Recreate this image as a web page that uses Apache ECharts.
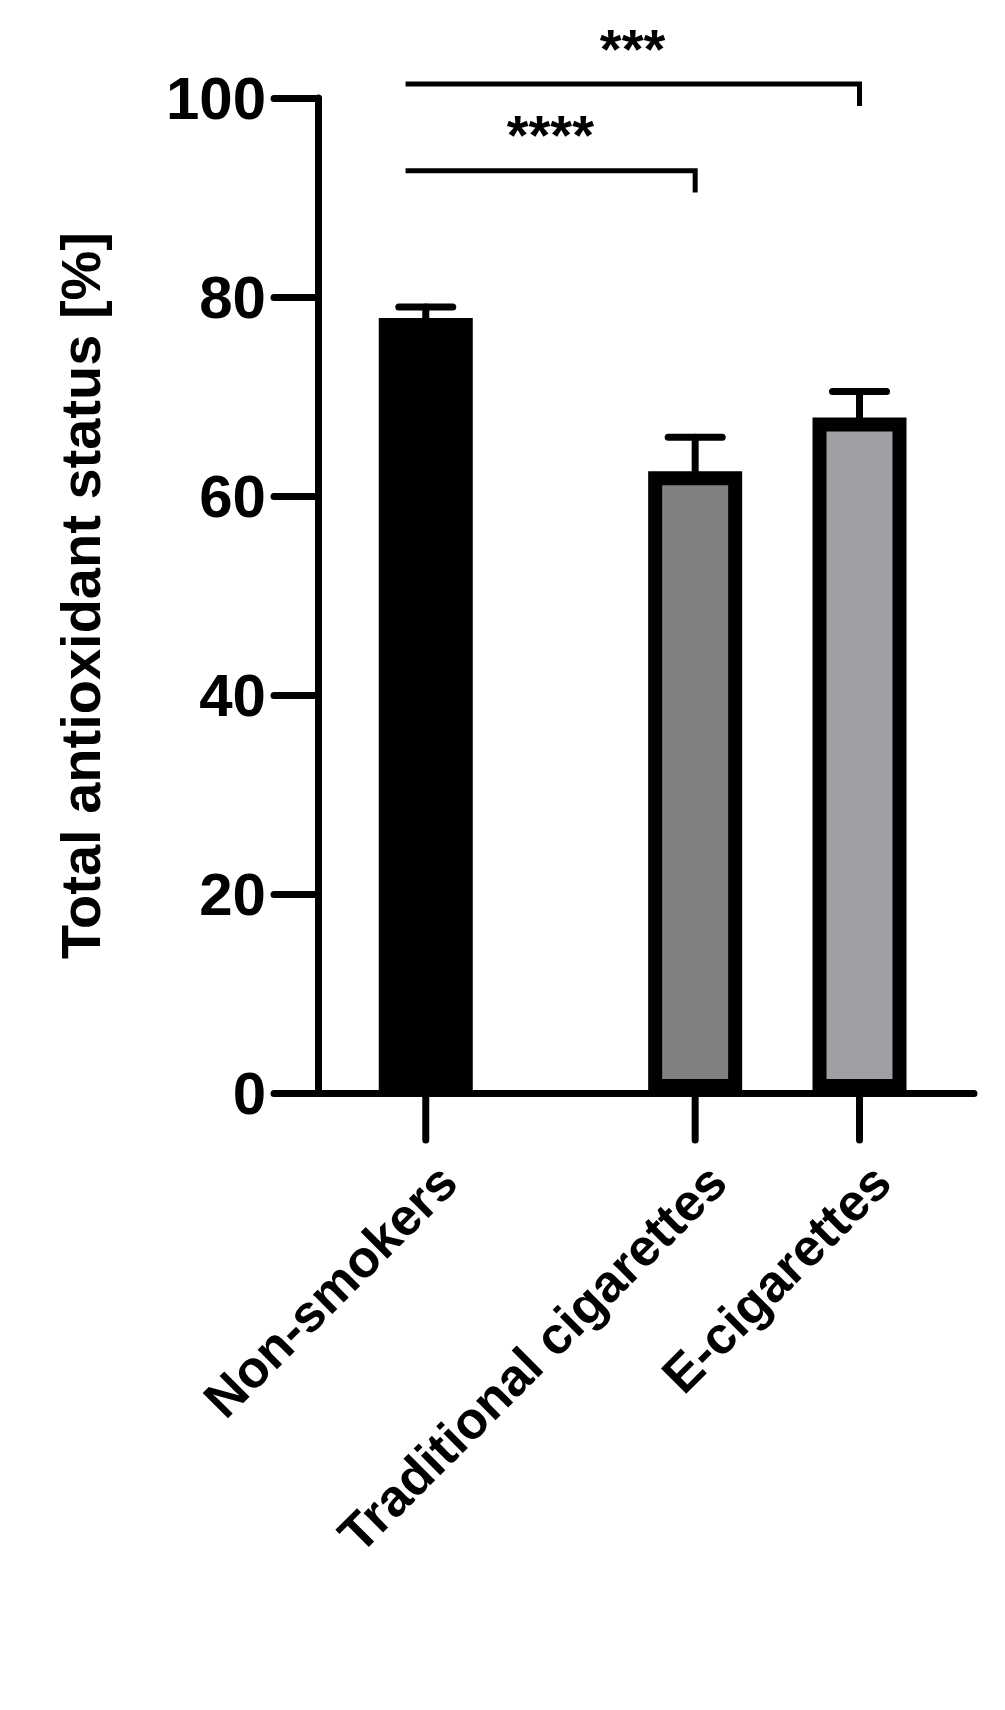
<!DOCTYPE html>
<html>
<head>
<meta charset="utf-8">
<script src="https://cdn.jsdelivr.net/npm/echarts@6/dist/echarts.min.js"></script>
<style>html,body{margin:0;background:#fff}#c{width:1005px;height:1710px}</style>
</head>
<body>
<div id="c"></div>
<script>
// group data
const categories = ['Non-smokers', 'Traditional cigarettes', 'E-cigarettes'];
const positions = [1, 3, 4.22];
const means = [77.9, 62.5, 67.9];
const errUpper = [79.0, 65.9, 70.5];
const fills = ['#000000', '#808080', '#a0a0a4'];

// significance brackets: [fromPos, toPos, lineY, dropY, label]
const brackets = [
    [0.85, 4.22, 101.4, 99.2, '***'],
    [0.85, 3, 92.7, 90.5, '****']
];

const font = 'Arial, "Liberation Sans", sans-serif';
const chart = echarts.init(document.getElementById('c'), null, { renderer: 'svg' });

chart.setOption({
    animation: false,
    grid: { left: 318, right: 31, top: 98, bottom: 617 },
    xAxis: {
        type: 'value', min: 0.2, max: 5.07,
        axisLine: { show: true, lineStyle: { color: '#000', width: 7, cap: 'round' } },
        axisTick: { show: false }, axisLabel: { show: false }, splitLine: { show: false }
    },
    yAxis: {
        type: 'value', min: 0, max: 100, interval: 20,
        name: 'Total antioxidant status [%]', nameLocation: 'middle', nameGap: 210,
        nameTextStyle: { fontFamily: font, fontWeight: 'bold', fontSize: 56, color: '#000' },
        axisLine: { show: true, lineStyle: { color: '#000', width: 7, cap: 'round' } },
        axisTick: { show: true, length: 44, lineStyle: { color: '#000', width: 7, cap: 'round' } },
        axisLabel: { fontFamily: font, fontWeight: 'bold', fontSize: 60, color: '#000', margin: 52 },
        splitLine: { show: false }
    },
    series: [
        {
            type: 'bar', barWidth: 94, z: 3,
            data: means.map((v, i) => ({
                value: [positions[i], v],
                itemStyle: { color: fills[i], borderColor: '#000', borderWidth: 14 }
            }))
        },
        {
            // error bars (upper only)
            type: 'custom', z: 2, clip: false,
            data: means.map((v, i) => [positions[i], v, errUpper[i]]),
            renderItem: (params, api) => {
                const p0 = api.coord([api.value(0), api.value(1)]);
                const p1 = api.coord([api.value(0), api.value(2)]);
                const st = { stroke: '#000', lineWidth: 7, lineCap: 'round' };
                return { type: 'group', children: [
                    { type: 'line', shape: { x1: p0[0], y1: p0[1], x2: p1[0], y2: p1[1] }, style: st },
                    { type: 'line', shape: { x1: p1[0] - 27, y1: p1[1], x2: p1[0] + 27, y2: p1[1] }, style: st }
                ] };
            }
        },
        {
            // x ticks and rotated category labels
            type: 'custom', z: 4, clip: false,
            data: positions.map((p, i) => [p, i]),
            renderItem: (params, api) => {
                const p = api.coord([api.value(0), 0]);
                return { type: 'group', children: [
                    { type: 'line', shape: { x1: p[0], y1: p[1], x2: p[0], y2: p[1] + 47 },
                      style: { stroke: '#000', lineWidth: 7, lineCap: 'round' } },
                    { type: 'text', x: p[0] + 22, y: p[1] + 80, rotation: Math.PI / 4,
                      style: { text: categories[api.value(1)], fontFamily: font, fontWeight: 'bold',
                               fontSize: 52, fill: '#000', align: 'right', verticalAlign: 'middle' } }
                ] };
            }
        },
        {
            // significance brackets
            type: 'custom', z: 4, clip: false,
            data: brackets.map((b, i) => [b[0], b[1], b[2], b[3], i]),
            renderItem: (params, api) => {
                const a = api.coord([api.value(0), api.value(2)]);
                const b = api.coord([api.value(1), api.value(2)]);
                const d = api.coord([api.value(1), api.value(3)]);
                const st = { stroke: '#000', lineWidth: 5 };
                return { type: 'group', children: [
                    { type: 'polyline', shape: { points: [a, b, d] }, style: Object.assign({ fill: null }, st) },
                    { type: 'text', x: (a[0] + b[0]) / 2 - (api.value(4) === 0 ? 0 : 0), y: a[1] - 8,
                      style: { text: brackets[api.value(4)][4], fontFamily: font, fontWeight: 'bold',
                               fontSize: 56, fill: '#000', align: 'center', verticalAlign: 'bottom' } }
                ] };
            }
        }
    ]
});
</script>
</body>
</html>
